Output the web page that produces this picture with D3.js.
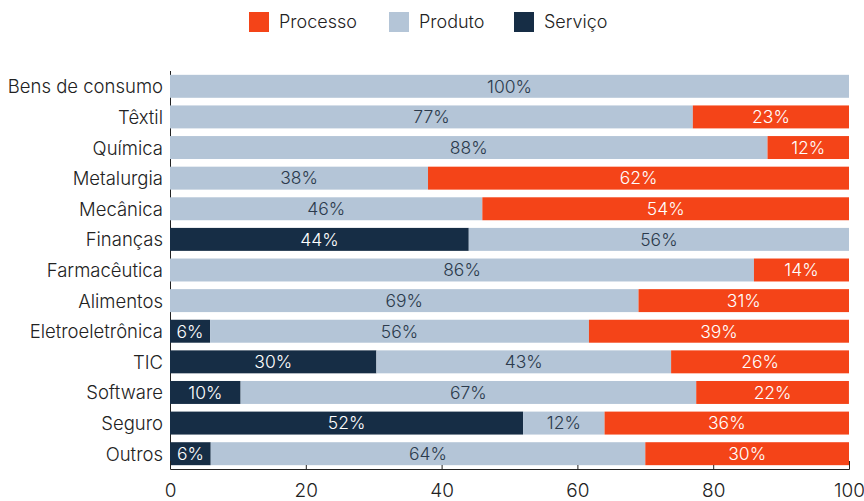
<!DOCTYPE html>
<html><head><meta charset="utf-8">
<script src="https://cdn.jsdelivr.net/npm/d3@7"></script>
<style>
body{margin:0;background:#fff;}
text{font-family:Inter,"DejaVu Sans",sans-serif;font-weight:300;}
</style></head>
<body><svg id="c" width="864" height="501"></svg>
<script>
const categories = ["Bens de consumo","Têxtil","Química","Metalurgia","Mecânica","Finanças","Farmacêutica","Alimentos","Eletroeletrônica","TIC","Software","Seguro","Outros"];
const servico  = [0,0,0,0,0,44,0,0,5.9,30.4,10.4,52,6];
const produto  = [100,77,88,38,46,56,86,69,55.8,43.4,67.1,12,64];
const processo = [0,23,12,62,54,0,14,31,38.7,26.2,22.49,36,30];
const seriesNames = ["Serviço","Produto","Processo"];
const legendOrder = ["Processo","Produto","Serviço"];
const xTicks = [0,20,40,60,80,100];

const colors = {"Serviço":"#162D45","Produto":"#B4C5D7","Processo":"#F44418"};
const labelColors = {"Serviço":"#ffffff","Produto":"#2B3A4C","Processo":"#ffffff"};

const rows = categories.map((c,i)=>({cat:c,"Serviço":servico[i],"Produto":produto[i],"Processo":processo[i]}));
const stack = d3.stack().keys(seriesNames)(rows);

const svg = d3.select("#c");
const x = d3.scaleLinear().domain([0,100]).range([170,849]).clamp(true);
const y = d3.scaleBand().domain(categories).range([71,469]).paddingInner(0.25).paddingOuter(0.125);

const g = svg.append("g");
stack.forEach(layer=>{
  const key = layer.key;
  const lg = g.append("g");
  lg.selectAll("rect").data(layer).join("rect")
    .attr("x",d=>x(d[0])).attr("y",d=>y(d.data.cat))
    .attr("width",d=>Math.max(0,x(d[1])-x(d[0]))).attr("height",y.bandwidth())
    .attr("fill",colors[key]);
  lg.selectAll("text").data(layer.filter(d=>d[1]-d[0]>0)).join("text")
    .attr("x",d=>(x(d[0])+x(d[1]))/2).attr("y",d=>y(d.data.cat)+y.bandwidth()/2)
    .attr("dy","0.36em").attr("text-anchor","middle")
    .attr("font-size",17.5).attr("fill",labelColors[key])
    .text(d=>Math.round(d.data[key])+"%");
});

// y axis
const ya = svg.append("g").attr("transform","translate(170,0)")
  .call(d3.axisLeft(y).tickSize(0).tickPadding(7));
ya.select(".domain").attr("stroke","#222").attr("d","M0.5,71V469");
ya.selectAll("text").attr("font-size",18.5).attr("fill","#222").attr("dy","0.38em").style("font-family","Inter,sans-serif").style("font-weight",300);
ya.lower();

// x axis
const xa = svg.append("g").attr("transform","translate(0,469)")
  .call(d3.axisBottom(x).tickValues(xTicks).tickSizeInner(-4).tickSizeOuter(-8).tickPadding(15));
xa.select(".domain").attr("stroke","#222");
xa.selectAll(".tick line").attr("stroke","#222");
xa.selectAll("text").attr("font-size",19).attr("fill","#222").style("font-family","Inter,sans-serif").style("font-weight",300);

// legend
const legX = {"Processo":249,"Produto":389,"Serviço":514};
const leg = svg.append("g");
legendOrder.forEach(k=>{
  leg.append("rect").attr("x",legX[k]).attr("y",12).attr("width",20).attr("height",20).attr("fill",colors[k]);
  leg.append("text").attr("x",legX[k]+30).attr("y",22).attr("dy","0.36em").attr("font-size",18).attr("fill","#222").text(k);
});
</script></body></html>
